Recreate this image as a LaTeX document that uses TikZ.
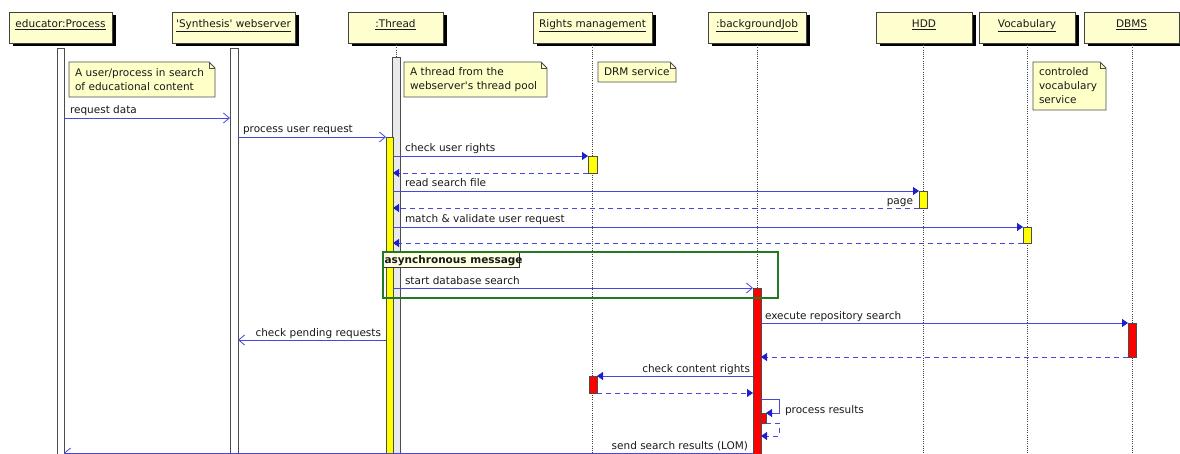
\documentclass[tikz,border=0pt]{standalone}
\usepackage{fontspec}
\setmainfont{DejaVu Sans}[Ligatures=TeXOff]
\usetikzlibrary{arrows.meta,shadows,backgrounds}
\definecolor{hdrfill}{RGB}{254,254,206}
\definecolor{notefill}{RGB}{255,255,200}
\definecolor{tagfill}{RGB}{255,255,225}
\definecolor{msgblue}{RGB}{70,70,225}
\definecolor{arrowblue}{RGB}{30,30,205}
\definecolor{thrgray}{RGB}{234,234,234}
\definecolor{grpgreen}{RGB}{35,120,35}
\definecolor{actred}{RGB}{255,0,0}
\definecolor{actyellow}{RGB}{255,255,0}
\newcommand{\actv}[6]{\node[act, fill=#6, minimum width=#4pt, minimum height=#5pt, anchor=north west] (#1) at (#2,#3) {};}
\newcommand{\mknote}[6]{%
  \node[notetxt, text width=#4pt, minimum height=#5pt, anchor=north west] (#1) at (#2,#3) {#6};
  \begin{scope}[on background layer]
    \filldraw[noteshape] (#1.north west) -- ([xshift=-6pt]#1.north east) -- ([yshift=-6pt]#1.north east) -- (#1.south east) -- (#1.south west) -- cycle;
    \draw[noteshape, fill=none] ([xshift=-6pt]#1.north east) |- ([yshift=-6pt]#1.north east);
  \end{scope}}
\begin{document}
\begin{tikzpicture}[x=1pt,y=-1pt, font=\fontsize{10.5}{14}\selectfont,
  hdr/.style={draw=black!75, fill=hdrfill, line width=0.9pt, minimum height=31pt, inner sep=0pt, outer sep=0pt,
    text height=8pt, text depth=8pt, text=black!90,
    drop shadow={shadow xshift=3.5pt, shadow yshift=-3.5pt, fill=black, opacity=1}},
  act/.style={draw=black!70, line width=0.8pt, inner sep=0pt, outer sep=0pt},
  life/.style={draw=black!75, line width=0.7pt, dash pattern=on 1pt off 1.2pt},
  notetxt/.style={inner xsep=6pt, inner ysep=0pt, outer sep=0pt, align=left, text=black!90},
  noteshape/.style={draw=black!70, fill=notefill, line width=0.8pt},
  msg/.style={draw=msgblue, line width=0.8pt},
  sync/.style={msg, -{Triangle[length=6pt,width=8pt,color=arrowblue]}},
  ret/.style={msg, dash pattern=on 5pt off 4pt, -{Triangle[length=6pt,width=8pt,color=arrowblue]}},
  async/.style={msg, -{Straight Barb[length=6pt,width=10pt]}},
  lbl/.style={text=black!90, inner sep=0pt, outer sep=0pt}]
\useasboundingbox (0,0) rectangle (1180,454);

% participants
\node[hdr, minimum width=103pt] (p1) at (60.5,27.5) {\underline{educator:Process}};
\node[hdr, minimum width=123pt] (p2) at (233.5,27.5) {\underline{'Synthesis' webserver}};
\node[hdr, minimum width=95pt] (p3) at (395.5,27.5) {\underline{:Thread}};
\node[hdr, minimum width=119pt] (p4) at (592.5,27.5) {\underline{Rights management}};
\node[hdr, minimum width=98pt] (p5) at (757,27.5) {\underline{:backgroundJob}};
\node[hdr, minimum width=96pt] (p6) at (924,27.5) {\underline{HDD}};
\node[hdr, minimum width=96pt] (p7) at (1027,27.5) {\underline{Vocabulary}};
\node[hdr, minimum width=95pt] (p8) at (1131.5,27.5) {\underline{DBMS}};

% lifelines
\draw[life] (p3.south -| 396,0) -- (396,57);
\draw[life] (p4.south) -- (p4.south |- 0,454);
\draw[life] (p5.south) -- (p5.south |- 0,454);
\draw[life] (923,43) -- (923,454);
\draw[life] (p7.south) -- (p7.south |- 0,454);
\draw[life] (1132,43) -- (1132,454);

% activations
\actv{a1}{57}{48}{7}{406}{white}
\actv{a2}{230}{48}{8}{406}{white}
\actv{a3g}{392}{57}{8}{397}{thrgray}
\actv{a3y}{386}{137}{7}{317}{actyellow}
\actv{r1}{588}{156}{9}{17}{actyellow}
\actv{h1}{919}{191}{8}{17}{actyellow}
\actv{v1}{1023}{227}{8}{16}{actyellow}
\actv{b1}{753}{288}{8}{166}{actred}
\actv{d1}{1128}{323}{8}{34}{actred}
\actv{r2}{589}{376}{8}{17}{actred}
\actv{b2}{760}{413}{6}{10}{actred}

% notes
\mknote{n1}{69}{62}{134}{35}{A user/process in search\\of educational content}
\mknote{n2}{404}{62}{131}{35}{A thread from the\\webserver's thread pool}
\mknote{n3}{598}{62}{66}{20}{DRM service}
\mknote{n4}{1033}{62}{61}{48}{controled\\vocabulary\\service}

% asynchronous group
\node[fill=tagfill, draw=black!80, line width=0.7pt, minimum width=137pt, minimum height=16pt, inner sep=0pt, anchor=north west] (tag) at (382,251) {};
\node[draw=grpgreen, line width=1.6pt, minimum width=395pt, minimum height=46pt, inner sep=0pt, anchor=north west] (grp) at (382,251) {};
\node[lbl, anchor=base west, font=\fontsize{10.5}{14}\selectfont\bfseries] (tagl) at (384.5,263.5) {asynchronous message};

% messages
\draw[async] (a1.east |- 0,118) -- (a2.west |- 0,118);
\node[lbl, anchor=base west] (m1) at (70,114) {request data};
\draw[async] (a2.east |- 0,137) -- (a3y.north west);
\node[lbl, anchor=base west] (m2) at (243,133) {process user request};
\draw[sync] (a3y.east |- 0,156) -- (r1.north west);
\node[lbl, anchor=base west] (m3) at (405,152) {check user rights};
\draw[ret] (r1.south west) -- (a3y.east |- 0,173);
\draw[sync] (a3y.east |- 0,191) -- (h1.north west);
\node[lbl, anchor=base west] (m4) at (405,187) {read search file};
\draw[ret] (h1.south west) -- (a3y.east |- 0,208);
\node[lbl, anchor=base east] (m5) at (913,205) {page};
\draw[sync] (a3y.east |- 0,227) -- (v1.north west);
\node[lbl, anchor=base west] (m6) at (405,223) {match \& validate user request};
\draw[ret] (v1.south west) -- (a3y.east |- 0,243);
\draw[async] (a3y.east |- 0,288) -- (b1.north west);
\node[lbl, anchor=base west] (m7) at (405,284) {start database search};
\draw[sync] (b1.east |- 0,323) -- (d1.north west);
\node[lbl, anchor=base west] (m8) at (765,319) {execute repository search};
\draw[ret] (d1.south west) -- (b1.east |- 0,357);
\draw[async] (a3y.west |- 0,340) -- (a2.east |- 0,340);
\node[lbl, anchor=base east] (m9) at (381,336) {check pending requests};
\draw[sync] (b1.west |- 0,376) -- (r2.north east);
\node[lbl, anchor=base east] (m10) at (750,372) {check content rights};
\draw[ret] (r2.south east) -- (b1.west |- 0,393);
\coordinate (s1) at (779,399);
\coordinate (s2) at (779,423);
\draw[sync] (b1.east |- s1) -- (s1) -- (s1 |- b2.north) -- (b2.north east);
\node[lbl, anchor=base west] (m11) at (785,413) {process results};
\draw[ret] (b2.south east) -- (s2) -- (779,436) -- (b1.east |- 0,436);
\draw[async] (b1.west |- 0,453) -- (a1.east |- 0,453);
\node[lbl, anchor=base east] (m12) at (748,449) {send search results (LOM)};
\end{tikzpicture}
\end{document}
